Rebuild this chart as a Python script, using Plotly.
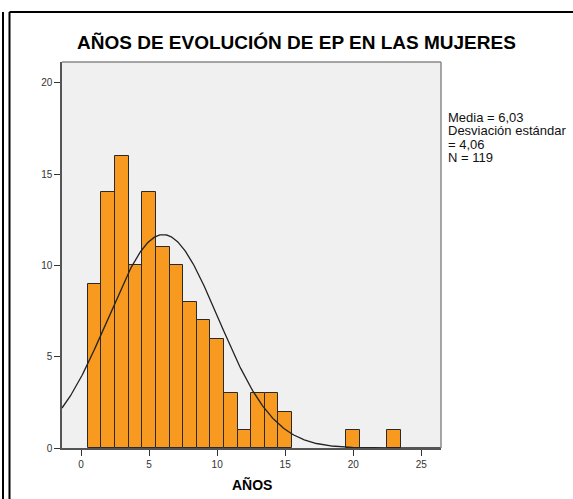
import numpy as np
import plotly.graph_objects as go

# Data
years = [1, 2, 3, 4, 5, 6, 7, 8, 9, 10, 11, 12, 13, 14, 15, 20, 23]
counts = [9, 14, 16, 10, 14, 11, 10, 8, 7, 6, 3, 1, 3, 3, 2, 1, 1]
mean_val = 6.03
sd_val = 4.06
n_val = 119
bin_width = 1

x_ticks = [0, 5, 10, 15, 20, 25]
y_ticks = [0, 5, 10, 15, 20]
stats_lines = ["Media = 6,03", "Desviación estándar", "= 4,06", "N = 119"]

FONT = "Liberation Sans, Arial, sans-serif"

# Plot geometry (pixels)
W, H = 573, 499
L, R, T, B = 62, 441, 62, 448
xr = [-1.40, 26.45]
yr = [0, 21.15]

def px(xpix):
    return (xpix - L) / (R - L)

def py(ypix):
    return (B - ypix) / (B - T)

fig = go.Figure()
fig.add_trace(go.Bar(
    x=years, y=counts, width=bin_width,
    marker=dict(color="#F89A1F", line=dict(color="#2a2a2a", width=1)),
    showlegend=False, hoverinfo="x+y",
))

xc = np.linspace(xr[0], xr[1], 400)
yc = n_val * bin_width / (sd_val * np.sqrt(2 * np.pi)) * np.exp(-0.5 * ((xc - mean_val) / sd_val) ** 2)
fig.add_trace(go.Scatter(x=xc, y=yc, mode="lines",
                         line=dict(color="#222222", width=1.3),
                         showlegend=False, hoverinfo="skip"))

annotations = [
    dict(text="<b>AÑOS DE EVOLUCIÓN DE EP EN LAS MUJERES</b>", x=px(296), y=py(42.5),
         xref="paper", yref="paper", xanchor="center", yanchor="middle",
         showarrow=False, font=dict(family=FONT, size=19, color="#000")),
    dict(text="<b>AÑOS</b>", x=px(251.5), y=py(485),
         xref="paper", yref="paper", xanchor="center", yanchor="middle",
         showarrow=False, font=dict(family=FONT, size=14, color="#000")),
]
for i, line in enumerate(stats_lines):
    annotations.append(dict(text=line, x=px(446), y=py(117.5 + i * 13.3),
                            xref="paper", yref="paper", xanchor="left", yanchor="middle",
                            showarrow=False, font=dict(family=FONT, size=13, color="#111")))

shapes = [
    # top and right plot border (lighter)
    dict(type="line", xref="paper", yref="paper", x0=0, x1=1, y0=1, y1=1,
         line=dict(color="#8a8a8a", width=1.5)),
    dict(type="line", xref="paper", yref="paper", x0=1, x1=1, y0=0, y1=1,
         line=dict(color="#8a8a8a", width=1.5)),
    # outer frame lines
    dict(type="line", xref="paper", yref="paper", x0=px(3), x1=px(3), y0=py(12), y1=py(499),
         line=dict(color="#000", width=2)),
    dict(type="line", xref="paper", yref="paper", x0=px(9.5), x1=px(9.5), y0=py(12), y1=py(499),
         line=dict(color="#000", width=2)),
    dict(type="line", xref="paper", yref="paper", x0=px(9.5), x1=px(573), y0=py(12), y1=py(12),
         line=dict(color="#000", width=2)),
]

fig.update_layout(
    width=W, height=H,
    margin=dict(l=L, r=W - R, t=T, b=H - B),
    paper_bgcolor="white", plot_bgcolor="#F0F0F0",
    bargap=0, showlegend=False,
    annotations=annotations, shapes=shapes,
    font=dict(family=FONT),
)
fig.update_xaxes(range=xr, tickvals=x_ticks, ticks="outside", ticklen=6, tickwidth=1,
                 tickcolor="#333", showline=True, linecolor="#555", linewidth=1.5,
                 showgrid=False, zeroline=False, tickfont=dict(family=FONT, size=10, color="#333"))
fig.update_yaxes(range=yr, tickvals=y_ticks, ticks="outside", ticklen=6, tickwidth=1,
                 tickcolor="#333", showline=True, linecolor="#555", linewidth=1.5,
                 showgrid=False, zeroline=False, tickfont=dict(family=FONT, size=10, color="#333"))

fig.write_html("out.html")
